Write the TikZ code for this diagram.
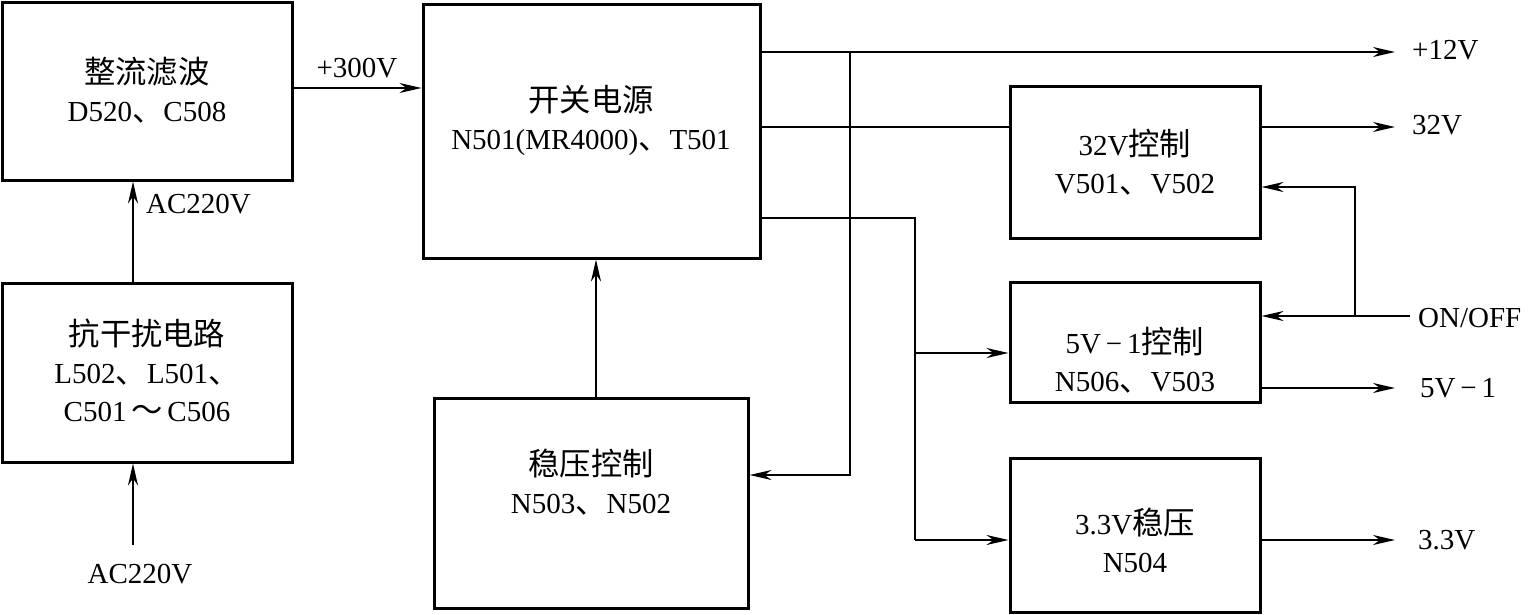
\documentclass[tikz,border=0pt]{standalone}
\usepackage{fontspec}
\setmainfont{Liberation Serif}
\newfontfamily\cjk[Scale=1.08]{Noto Sans CJK SC}
\newcommand{\zh}[1]{{\cjk #1}}
\usetikzlibrary{arrows.meta}
\begin{document}
\begin{tikzpicture}[x=1pt,y=-1pt,
  box/.style={draw,line width=3pt,rectangle,inner sep=0pt},
  txt/.style={align=center,inner sep=0pt,font=\fontsize{29}{38}\selectfont},
  lbl/.style={inner sep=0pt,font=\fontsize{29}{34}\selectfont},
  conn/.style={line width=1.8pt},
  arr/.style={conn,-{Stealth[length=22pt,width=10pt,inset=7pt]}}]
\useasboundingbox (0,0) rectangle (1532,614);
% boxes
\node[box,minimum width=290pt,minimum height=178pt] (zl) at (147,91) {};
\node[box,minimum width=290pt,minimum height=179pt] (kg) at (147,372.5) {};
\node[box,minimum width=337pt,minimum height=254pt] (kd) at (591.5,131) {};
\node[box,minimum width=314pt,minimum height=210pt] (wy) at (591,503) {};
\node[box,minimum width=250pt,minimum height=152pt] (c32) at (1135,162) {};
\node[box,minimum width=250pt,minimum height=120pt] (c5) at (1135,342) {};
\node[box,minimum width=250pt,minimum height=154pt] (c33) at (1135,535) {};
% texts
\node[txt] (tzl) at (147,90) {\zh{整流滤波}\\D520\zh{、}C508};
\node[txt] (tkg) at (147,370) {\zh{抗干扰电路}\\L502\zh{、}L501\zh{、}\\C501\,\zh{～}\,C506};
\node[txt] (tkd) at (591,120) {\zh{开关电源}\\N501(MR4000)\zh{、}T501};
\node[txt] (twy) at (591,482) {\zh{稳压控制}\\N503\zh{、}N502};
\node[txt] (tc32) at (1135,162) {32V\zh{控制}\\V501\zh{、}V502};
\node[txt] (tc5) at (1135,360) {5V\,−\,1\zh{控制}\\N506\zh{、}V503};
\node[txt] (tc33) at (1135,540) {3.3V\zh{稳压}\\N504};
% labels / free ends
\coordinate (acin) at (133,545);
\node[lbl] (lac1) at (140,574) {AC220V};
\node[lbl,anchor=west] (lac2) at (146,204) {AC220V};
\node[lbl] (l300) at (357,68) {+300V};
\coordinate (o12) at (1395,52);
\node[lbl,anchor=west] (l12) at (1412,50) {+12V};
\coordinate (o32) at (1395,127);
\node[lbl,anchor=west] (l32) at (1412,125) {32V};
\coordinate (o5) at (1395,388);
\node[lbl,anchor=west] (l5) at (1420,388) {5V\,−\,1};
\coordinate (o33) at (1395,540);
\node[lbl,anchor=west] (l33) at (1418,540) {3.3V};
\coordinate (on) at (1410,316);
\node[lbl,anchor=west] (lon) at (1418,318) {ON/OFF};
% connectors
\draw[arr] (acin) -- (acin |- kg.south);
\draw[arr] (kg.north -| acin) -- (zl.south -| acin);
\draw[arr] (zl.east |- 0,88) -- (kd.west |- 0,88);
\draw[arr] (kd.east |- o12) -- (o12);
\coordinate (j12) at (850,52);
\coordinate (fb) at (850,475);
\draw[arr] (j12) -- (fb) -- (wy.east |- fb);
\draw[conn] (kd.east |- o32) -- (c32.west |- o32);
\draw[arr] (c32.east |- o32) -- (o32);
\draw[arr] (wy.north -| 596,0) -- (kd.south -| 596,0);
\coordinate (s1) at (915,218);
\coordinate (s2) at (915,540);
\coordinate (s3) at (915,353);
\draw[conn] (kd.east |- s1) -- (s1) -- (s2);
\draw[arr] (s3) -- (c5.west |- s3);
\draw[arr] (s2) -- (c33.west |- s2);
\draw[arr] (on) -- (c5.east |- on);
\coordinate (j2) at (1355,316);
\coordinate (j3) at (1355,187);
\draw[arr] (j2) -- (j3) -- (c32.east |- j3);
\draw[arr] (c5.east |- o5) -- (o5);
\draw[arr] (c33.east |- o33) -- (o33);
\end{tikzpicture}
\end{document}
